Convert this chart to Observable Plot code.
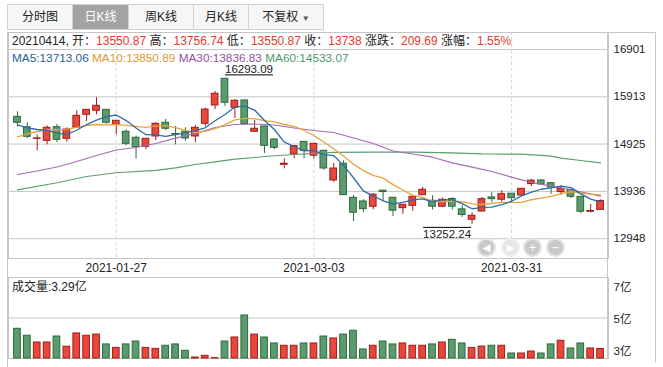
<!DOCTYPE html>
<html><head><meta charset="utf-8">
<script src="https://cdn.jsdelivr.net/npm/d3@7"></script>
<script src="https://cdn.jsdelivr.net/npm/@observablehq/plot@0.6"></script>
<style>
body{margin:0;background:#fff;font-family:"Liberation Sans","Noto Sans CJK SC",sans-serif;}
#wrap{position:relative;width:663px;height:367px;overflow:hidden;background:#fff;}
#wrap svg{position:absolute;left:0;}
.tab{position:absolute;top:4px;height:24px;line-height:24px;text-align:center;font-size:12px;color:#222;background:#f6f6f6;border:1px solid #d2d2d2;box-sizing:content-box;}
.tab.sel{background:#a3a3a3;color:#fff;}
.row{position:absolute;left:12px;font-size:12px;white-space:pre;line-height:16px;}
.hl{position:absolute;background:#c6c6c6;}
.nav{position:absolute;top:238px;width:15px;height:15px;border-radius:50%;border:2px solid #e3e3e3;background:#c9c9c9;color:#fff;font-size:10px;line-height:15px;text-align:center;font-family:"DejaVu Sans",sans-serif;}
.nav.off{background:#e6e6e6;border-color:#efefef;}
</style></head>
<body>
<div id="wrap"></div>
<script>
// ---- data ----
const dates = ["2021-01-13","2021-01-14","2021-01-15","2021-01-18","2021-01-19","2021-01-20","2021-01-21","2021-01-22","2021-01-25","2021-01-26","2021-01-27","2021-01-28","2021-01-29","2021-02-01","2021-02-02","2021-02-03","2021-02-04","2021-02-05","2021-02-08","2021-02-09","2021-02-10","2021-02-18","2021-02-19","2021-02-22","2021-02-23","2021-02-24","2021-02-25","2021-02-26","2021-03-01","2021-03-02","2021-03-03","2021-03-04","2021-03-05","2021-03-08","2021-03-09","2021-03-10","2021-03-11","2021-03-12","2021-03-15","2021-03-16","2021-03-17","2021-03-18","2021-03-19","2021-03-22","2021-03-23","2021-03-24","2021-03-25","2021-03-26","2021-03-29","2021-03-30","2021-03-31","2021-04-01","2021-04-02","2021-04-06","2021-04-07","2021-04-08","2021-04-09","2021-04-12","2021-04-13","2021-04-14"];
const open = [15495,15278,15035,14993,15278,15036,15265,15537,15621,15641,15328,15182,15057,14868,15084,15370,15136,15182,15084,15349,15731,16289,15683,15836,15182,15293,15021,14493,14708,14972,14682,14785,14165,14514,13803,13726,13617,13952,13803,13586,13636,13858,13741,13617,13779,13562,13344,13517,13810,13762,13889,13851,14090,14165,14108,13922,13970,13824,13512,13550.87];
const high = [15600,15370,15119,15307,15334,15265,15621,15645,15892,15645,15418,15224,15091,15040,15370,15439,15293,15265,15313,15675,16024,16293.09,15857,15845,15418,15298,15025,14617,14896,14976,14936,14790,14520,14576,13851,13762,13889,13956,13808,13662,13828,14018,13845,13796,13803,13636,13490,13810,13908,13952,13893,13995,14188,14186,14112,14054,13975,13828,13663,13756.74];
const low = [15278,15036,14785,14910,14958,14965,15260,15397,15537,15341,15119,14889,14617,14806,15000,15209,14910,14986,14952,15286,15647,15710,15462,15335,15178,14729,14806,14409,14624,14617,14617,14377,14125,13853,13308,13490,13554,13726,13413,13460,13519,13854,13547,13597,13547,13395,13252.24,13510,13699,13711,13699,13824,14035,14078,13878,13851,13789,13470,13491,13550.87];
const close = [15370,15077,15045,15265,15015,15230,15516,15641,15725,15370,15412,14931,14860,15036,15349,15245,15125,15042,15265,15647,15976,15788,15829,15341,15245,14889,14847,14514,14881,14785,14931,14415,14415,13858,13490,13566,13868,13923,13533,13657,13824,13970,13617,13762,13617,13443,13428,13775,13775,13879,13795,13991,14161,14082,14018,13991,13824,13512,13528,13738];
const volume = [4.34,3.98,3.63,3.63,3.94,3.41,4.10,3.98,4.04,3.53,3.35,3.53,3.68,3.35,3.30,3.46,3.53,3.20,2.85,2.94,2.82,3.68,3.89,5.03,4.04,3.89,3.58,3.46,3.46,3.58,3.58,3.94,3.84,4.04,4.24,3.27,3.46,3.68,3.53,3.58,3.46,3.46,3.53,3.63,3.77,3.58,3.35,3.42,3.46,3.46,3.06,3.06,3.16,3.06,3.53,3.72,3.32,3.58,3.32,3.29];
// moving-average values whose windows start before the visible range
const ma5Head = [15324,15265,15230,15209];
const ma10Head = [15077,15140,15188,15224,15224,15236,15272,15313,15334];
const ma30Idx = [1,3,5,7,9,11,13,15,17,19,21,23,25,27,29,31,33,35,37,39,41,43,45,47,49,51,53,55,57,60];
const ma30Val = [14290,14363,14447,14562,14687,14802,14854,14938,15048,15146,15272,15334,15345,15324,15261,15209,15167,15052,14938,14781,14718,14651,14534,14442,14353,14234,14123,14046,13971,13836.83];
const ma60Idx = [1,5,8,11,15,17,19,21,23,25,27,29,31,33,37,41,45,48,52,55,56,58,60];
const ma60Val = [13970,14117,14248,14326,14374,14430,14499,14555,14610,14645,14681,14708,14729,14750,14756,14756,14743,14722,14714,14672,14630,14582,14533.07];
const maHeader = [13713.06,13850.89,13836.83,14533.07];
const lastChange = "209.69", lastPct = "1.55%";
const priceTicks = [12948,13936,14925,15913,16901];
const dateTicks = ["2021-01-27","2021-03-03","2021-03-31"];
const volTicks = [2.8,4.9,7.0];
const volTickLabels = ["3亿","5亿","7亿"];
const tabs = ["分时图","日K线","周K线","月K线","不复权 ▾"];

// ---- styling ----
const RED_FILL="#e8473b", RED_LINE="#a01c1c", GREEN_FILL="#5b9b6f", GREEN_LINE="#2c6a3a";
const MA_LINE = ["#2e6da4","#e8a33c","#a56cb6","#5e9e72"];
const MA_TEXT = ["#1f5d99","#e0982e","#94519f","#4b9a6b"];
const FONT = '"Liberation Sans","Noto Sans CJK SC",sans-serif';

const candles = dates.map((d,i)=>({date:d, open:open[i], high:high[i], low:low[i], close:close[i], volume:volume[i]}));
const up = d => d.close >= d.open;
function movingAvg(k, head){ return close.map((c,i)=> i < k-1 ? head[i] : d3.mean(close.slice(i-k+1,i+1))); }
const ma5 = movingAvg(5, ma5Head), ma10 = movingAvg(10, ma10Head);
const series = (vals) => vals.map((v,i)=>({date:dates[i], v}));
const sampled = (idx, vals) => idx.map((k,i)=>({date:dates[k-1], v:vals[i]}));
const maxC = [candles.reduce((a,b)=> b.high>a.high?b:a)];
const minC = [candles.reduce((a,b)=> b.low<a.low?b:a)];

const xOpt = {type:"band", domain:dates, range:[12,605], padding:0, label:null};

const price = Plot.plot({
  width:663, height:246, marginLeft:8, marginRight:55, marginTop:0, marginBottom:20,
  style:{background:"transparent", fontFamily:FONT, fontSize:"11.5px", color:"#222"},
  x:xOpt,
  y:{domain:[12535,17256], range:[226,0], label:null},
  color:{type:"identity"},
  marks:[
    Plot.ruleY(priceTicks,{stroke:"#c6c6c6"}),
    Plot.ruleX(dateTicks,{x:d=>d, stroke:"#d4d4d4", strokeDasharray:"3,3"}),
    Plot.frame({stroke:"#c6c6c6"}),
    Plot.ruleX(candles,{x:"date", y1:"low", y2:"high", stroke:d=>up(d)?RED_LINE:GREEN_LINE}),
    Plot.barY(candles,{x:"date", y1:d=>Math.min(d.open,d.close), y2:d=>Math.max(d.open,d.close), fill:d=>up(d)?RED_FILL:GREEN_FILL, stroke:d=>up(d)?RED_LINE:GREEN_LINE, strokeWidth:1, insetLeft:1.6, insetRight:1.6}),
    Plot.line(sampled(ma60Idx,ma60Val),{x:"date", y:"v", stroke:MA_LINE[3], strokeWidth:1.2}),
    Plot.line(sampled(ma30Idx,ma30Val),{x:"date", y:"v", stroke:MA_LINE[2], strokeWidth:1.2}),
    Plot.line(series(ma10),{x:"date", y:"v", stroke:MA_LINE[1], strokeWidth:1.3}),
    Plot.line(series(ma5),{x:"date", y:"v", stroke:MA_LINE[0], strokeWidth:1.3}),
    Plot.text(maxC,{x:"date", y:"high", text:d=>d.high.toFixed(2), textAnchor:"start", dy:-9, fill:"#222", fontSize:11.5}),
    Plot.text(minC,{x:"date", y:"low", text:d=>d.low.toFixed(2), textAnchor:"end", dx:-1, dy:10, fill:"#222", fontSize:11.5}),
    Plot.axisY(priceTicks,{anchor:"right", label:null, tickSize:0, tickPadding:5, tickFormat:d=>String(d), fill:"#222"}),
    Plot.axisX(dateTicks,{anchor:"bottom", label:null, tickSize:0, tickPadding:5, fontSize:12, fill:"#222"})
  ]
});
price.style.top = "32px";
price.querySelectorAll("text").forEach(t=>{
  if (t.textContent === maxC[0].high.toFixed(2)) t.setAttribute("text-decoration","underline");
  if (t.textContent === minC[0].low.toFixed(2)) t.setAttribute("text-decoration","overline");
});

const vol = Plot.plot({
  width:663, height:90, marginLeft:8, marginRight:55, marginTop:0, marginBottom:9,
  style:{background:"transparent", fontFamily:FONT, fontSize:"11.5px", color:"#222"},
  x:{...xOpt, axis:null},
  y:{domain:[volTicks[0], volTicks[2]], range:[81,0], label:null},
  color:{type:"identity"},
  marks:[
    Plot.ruleY([volTicks[1]],{stroke:"#c6c6c6"}),
    Plot.frame({stroke:"#c6c6c6"}),
    Plot.barY(candles,{x:"date", y1:()=>volTicks[0], y2:"volume", fill:d=>up(d)?RED_FILL:GREEN_FILL, stroke:d=>up(d)?RED_LINE:GREEN_LINE, strokeWidth:1, insetLeft:1.6, insetRight:1.6}),
    Plot.axisY([volTicks[0]],{anchor:"right", label:null, tickSize:0, tickPadding:5, dy:-7, tickFormat:()=>volTickLabels[0], fill:"#222"}),
    Plot.axisY([volTicks[1]],{anchor:"right", label:null, tickSize:0, tickPadding:5, dy:1, tickFormat:()=>volTickLabels[1], fill:"#222"}),
    Plot.axisY([volTicks[2]],{anchor:"right", label:null, tickSize:0, tickPadding:5, dy:10, tickFormat:()=>volTickLabels[2], fill:"#222"})
  ]
});
vol.style.top = "277px";

const wrap = document.getElementById("wrap");
wrap.appendChild(price);
wrap.appendChild(vol);

function el(tag, cls, css, html){ const e=document.createElement(tag); if(cls) e.className=cls; if(css) e.style.cssText=css; if(html!=null) e.innerHTML=html; wrap.appendChild(e); return e; }
// frame lines outside the plot areas
el("div","hl","left:7px;top:32px;width:1px;height:335px;");
el("div","hl","left:7px;top:32px;width:649px;height:1px;");
el("div","hl","left:607px;top:32px;width:1px;height:327px;");
el("div","hl","left:655px;top:32px;width:1px;height:330px;");

// tabs
const tabX = [7,72,128,193,248,323];
tabs.forEach((t,i)=>{
  el("div","tab"+(i===1?" sel":""),`left:${tabX[i]}px;width:${tabX[i+1]-tabX[i]-1}px;`, t.replace("▾",'<span style="font-size:8px;color:#555">▼</span>'));
});

// header rows
const R = "#e8392c";
const last = candles[candles.length-1];
const sp = (txt,c)=>`<span style="color:${c}">${txt}</span>`;
el("div","row","top:33px;",
  sp(last.date.replace(/-/g,"")+", 开：","#222")+sp(last.open.toFixed(2),R)+
  sp(" 高：","#222")+sp(last.high.toFixed(2),R)+
  sp(" 低：","#222")+sp(last.low.toFixed(2),R)+
  sp(" 收：","#222")+sp(String(last.close),R)+
  sp(" 涨跌：","#222")+sp(lastChange,R)+
  sp(" 涨幅：","#222")+sp(lastPct,R));
const maNames=["MA5","MA10","MA30","MA60"];
el("div","row","top:50px;font-size:11.8px;", maNames.map((n,i)=>sp(n+":"+maHeader[i].toFixed(2),MA_TEXT[i])).join(" "));
el("div","row","top:279px;color:#222;", "成交量:"+last.volume.toFixed(2)+"亿");

// navigation buttons
const navGlyph=["◀","▶","+","−"], navX=[477,501,523,546];
navGlyph.forEach((g,i)=> el("div","nav"+(i===1?" off":""),`left:${navX[i]}px;`, g));
</script>
</body></html>
